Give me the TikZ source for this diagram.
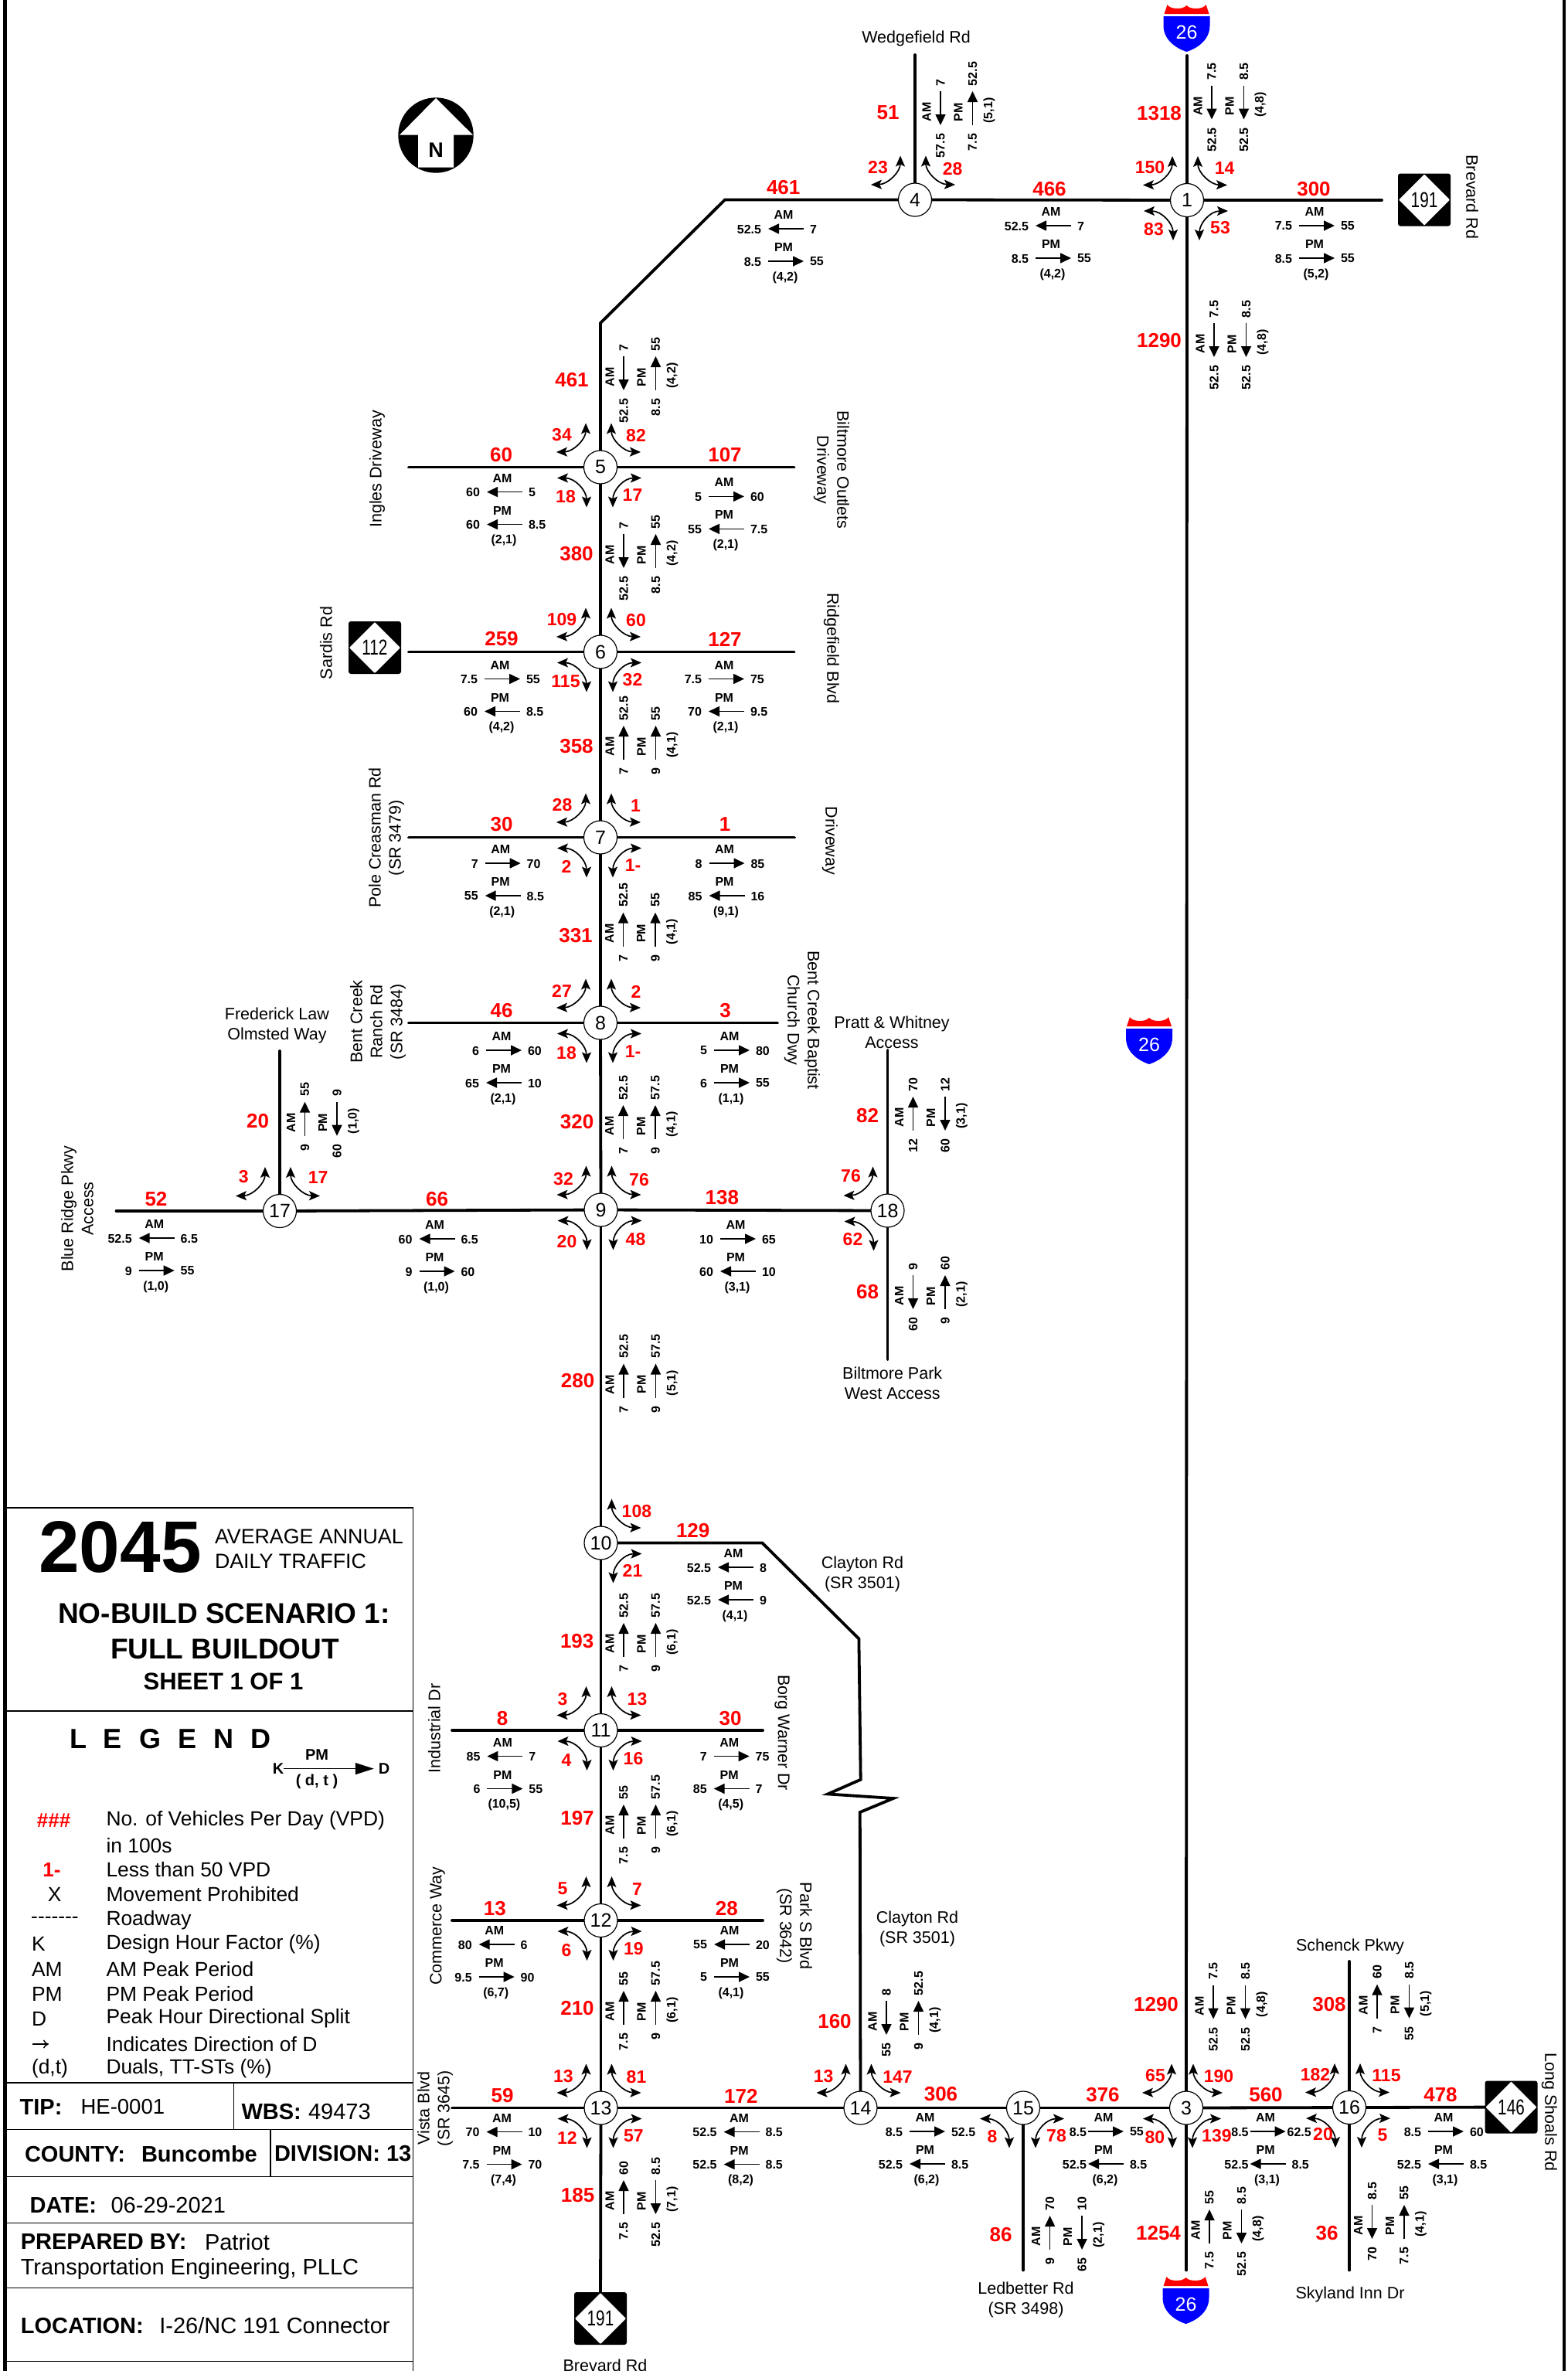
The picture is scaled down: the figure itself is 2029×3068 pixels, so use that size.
\documentclass[tikz,border=0pt]{standalone}
\usepackage{fontspec}
\setmainfont{Liberation Sans}
\usetikzlibrary{arrows.meta,backgrounds}
\definecolor{pred}{rgb}{1,0,0}
\definecolor{pblue}{rgb}{0,0,1}
\newcommand\fVol{\fontsize{26}{28}\selectfont\bfseries}
\newcommand\fTurn{\fontsize{23}{25}\selectfont\bfseries}
\newcommand\fSm{\fontsize{16}{18}\selectfont\bfseries}
\newcommand\fName{\fontsize{21.5}{26}\selectfont}
\newcommand\fNum{\fontsize{25}{27}\selectfont}
\newcommand\fLeg{\fontsize{26.4}{30}\selectfont}
\newcommand\fBox{\fontsize{29}{32}\selectfont}
\newcommand\fBoxB{\fontsize{29}{32}\selectfont\bfseries}
\tikzset{
  every node/.append style={inner sep=0pt,outer sep=0pt},
  road/.style={line width=3.8pt,line cap=round,line join=miter},
  isect/.style={circle,draw=black,fill=white,line width=1.2pt,minimum size=43pt,font=\fNum},
  vol/.style={font=\fVol,text=pred},
  tl/.style={font=\fTurn,text=pred},
  sm/.style={font=\fSm},
  nm/.style={font=\fName,align=center},
  legt/.style={font=\fLeg,anchor=west},
  boxr/.style={font=\fBox,anchor=west},
  boxb/.style={font=\fBoxB,anchor=west},
  rule/.style={line width=1.5pt},
  flow/.style={line width=1.7pt},
  frt/.style={-{Triangle[length=14pt,width=13pt]}},
  flt/.style={{Triangle[length=14pt,width=13pt]}-},
  turn/.style={line width=1.7pt,{Stealth[length=14pt,width=12pt,inset=3pt]}-{Stealth[length=14pt,width=12pt,inset=3pt]}},
}
\newcounter{lbl}
\newcommand\T[4][]{\stepcounter{lbl}\node[#1] (t\arabic{lbl}) at (#2,#3) {#4};}
\newcommand\V[3]{\T[vol]{#1}{#2}{#3}}
\newcommand\lgp{-32}
\newcommand\rgp{31}
% horizontal data block: arrow centre x, AM y
\newcommand\HB[9]{\begin{scope}[shift={(#1,#2)}]
  \T[sm]{-3}{0}{AM}
  \draw[flow,#4] (-23,18)--(23,18);
  \T[sm,anchor=east]{\lgp}{18.5}{#3}
  \T[sm,anchor=west]{\rgp}{18.5}{#5}
  \T[sm]{-3}{42}{PM}
  \draw[flow,#7] (-23,60)--(23,60);
  \T[sm,anchor=east]{\lgp}{60.5}{#6}
  \T[sm,anchor=west]{31}{60.5}{#8}
  \T[sm]{-1}{81}{#9}
\end{scope}}
% vertical data block: AM x, arrow centre y
\newcommand\VB[9]{\begin{scope}[shift={(#1,#2)}]
  \T[sm,rotate=90]{0}{5}{AM}
  \draw[flow,#4] (18,22)--(18,-22);
  \T[sm,rotate=90,anchor=west]{18}{-29}{#3}
  \T[sm,rotate=90,anchor=east]{18}{33}{#5}
  \T[sm,rotate=90]{41}{5}{PM}
  \draw[flow,#7] (59.5,22)--(59.5,-22);
  \T[sm,rotate=90,anchor=west]{59.5}{-29}{#6}
  \T[sm,rotate=90,anchor=east]{59.5}{33}{#8}
  \T[sm,rotate=90]{81}{3}{#9}
\end{scope}}
\newcommand\TNE[5]{\begin{scope}[shift={(#1,#2)}]
  \draw[turn] (14,-57) .. controls (14,-36) and (30,-20) .. (52,-19.5);
  \T[tl]{#4}{#5}{#3}\end{scope}}
\newcommand\TNW[5]{\begin{scope}[shift={(#1,#2)}]
  \draw[turn] (-19,-57) .. controls (-19,-36) and (-35,-20) .. (-57,-19.5);
  \T[tl]{#4}{#5}{#3}\end{scope}}
\newcommand\TSE[5]{\begin{scope}[shift={(#1,#2)}]
  \draw[turn] (53,14) .. controls (30,14) and (16,30) .. (16,52);
  \T[tl]{#4}{#5}{#3}\end{scope}}
\newcommand\TSW[5]{\begin{scope}[shift={(#1,#2)}]
  \draw[turn] (-56,14) .. controls (-33,14) and (-18,30) .. (-18,52);
  \T[tl]{#4}{#5}{#3}\end{scope}}
% NC route marker
\newcommand\NCS[4]{\node[fill=black,rounded corners=3pt,minimum size=68pt] (#1) at (#2,#3) {};
  \begin{scope}[shift={(#2,#3)}]
  \fill[white,rounded corners=1pt] (-33,0)--(0,-33)--(33,0)--(0,33)--cycle;
  \T[font=\fontsize{28}{30}\selectfont]{0}{0}{\scalebox{0.74}[1]{#4}}
  \end{scope}}
% Interstate marker: centre x, top y
\newcommand\ISH[2]{\begin{scope}[shift={(#1,#2)}]
  \fill[pred] (-25,0) .. controls (-22,6) and (-5,7) .. (0,1) .. controls (5,7) and (22,6) .. (25,0) -- (29,12) -- (-29,12) -- cycle;
  \fill[pblue] (-30,15) -- (30,15) -- (30,27) .. controls (30,45) and (15,56) .. (0,61) .. controls (-15,56) and (-30,45) .. (-30,27) -- cycle;
  \T[font=\fontsize{25}{27}\selectfont,text=white]{0}{36}{26}
  \end{scope}}
\begin{document}
\begin{tikzpicture}[x=1pt,y=-1pt]
\useasboundingbox (0,0) rectangle (2029,3068);
% frame
\draw[line width=4.5pt] (6.5,0)--(6.5,3068);
\draw[line width=4pt] (2023.5,0)--(2023.5,3068);
% intersections
\node[isect] (n1) at (1536,259) {1};
\node[isect] (n3) at (1535,2727.5) {3};
\node[isect] (n4) at (1184,258.5) {4};
\node[isect] (n5) at (777,604.5) {5};
\node[isect] (n6) at (777,843.5) {6};
\node[isect] (n7) at (777,1083.5) {7};
\node[isect] (n8) at (777,1323.5) {8};
\node[isect] (n9) at (777.5,1565.5) {9};
\node[isect] (n10) at (777.5,1996.5) {10};
\node[isect] (n11) at (777.5,2239) {11};
\node[isect] (n12) at (777.5,2485) {12};
\node[isect] (n13) at (777.5,2727.5) {13};
\node[isect] (n14) at (1113.5,2727.5) {14};
\node[isect] (n15) at (1324,2727.5) {15};
\node[isect] (n16) at (1746,2727) {16};
\node[isect] (n17) at (362,1567) {17};
\node[isect] (n18) at (1148.5,1566.5) {18};
% route markers
\NCS{sa}{1843}{258.5}{191}
\NCS{sb}{485}{838}{112}
\NCS{sc}{777}{3000}{191}
\NCS{sd}{1955.5}{2726.5}{146}
\ISH{1535.5}{6}
\ISH{1487}{1316}
\ISH{1534.5}{2946}
% free road ends and bends
\coordinate (e1e) at (1788,259);
\coordinate (e1n) at (1536,72);
\coordinate (e3s) at (1535,2937.5);
\coordinate (e4n) at (1184,71);
\coordinate (b4a) at (938,258.5);
\coordinate (b4b) at (777,418);
\coordinate (e5w) at (529,604.5);
\coordinate (e5e) at (1027.5,604.5);
\coordinate (e6w) at (529,843.5);
\coordinate (e6e) at (1027.5,843.5);
\coordinate (e7w) at (529,1083.5);
\coordinate (e7e) at (1028,1083.5);
\coordinate (e8w) at (529,1323.5);
\coordinate (e8e) at (1006,1323.5);
\coordinate (e17w) at (150.5,1567);
\coordinate (e17n) at (362,1360);
\coordinate (e18n) at (1148.5,1359);
\coordinate (e18s) at (1148.5,1759);
\coordinate (e11w) at (585,2239);
\coordinate (e11e) at (987,2239);
\coordinate (e12w) at (585,2485);
\coordinate (e12e) at (987,2485);
\coordinate (e13w) at (585,2727.5);
\coordinate (e15s) at (1324,2937.5);
\coordinate (e16n) at (1746,2538);
\coordinate (e16s) at (1746,2937.5);
\coordinate (z1) at (986.4,1996.5);
\coordinate (z2) at (1111.4,2120.5);
\coordinate (z3) at (1113.7,2302.7);
\coordinate (z4) at (1071.2,2321.4);
\coordinate (z5) at (1156,2327);
\coordinate (z6) at (1112.8,2345);
\begin{scope}[on background layer]
\draw[road] (n4)--(n1);
\draw[road] (n1)--(e1e);
\draw[road] (n1)--(e1n);
\draw[road] (n1)--(n3);
\draw[road] (n3)--(e3s);
\draw[road] (n4)--(e4n);
\draw[road] (n4)--(b4a)--(b4b)--(n5);
\draw[road] (n5)--(n6);
\draw[road] (n6)--(n7);
\draw[road] (n7)--(n8);
\draw[road] (n8)--(n9);
\draw[road] (n9)--(n10);
\draw[road] (n10)--(n11);
\draw[road] (n11)--(n12);
\draw[road] (n12)--(n13);
\draw[road] (n13)--(sc);
\draw[road] (n5)--(e5w);
\draw[road] (n5)--(e5e);
\draw[road] (n6)--(e6w);
\draw[road] (n6)--(e6e);
\draw[road] (n7)--(e7w);
\draw[road] (n7)--(e7e);
\draw[road] (n8)--(e8w);
\draw[road] (n8)--(e8e);
\draw[road] (n17)--(n9);
\draw[road] (n9)--(n18);
\draw[road] (n17)--(e17w);
\draw[road] (n17)--(e17n);
\draw[road] (n18)--(e18n);
\draw[road] (n18)--(e18s);
\draw[road] (n11)--(e11w);
\draw[road] (n11)--(e11e);
\draw[road] (n12)--(e12w);
\draw[road] (n12)--(e12e);
\draw[road] (n13)--(e13w);
\draw[road] (n13)--(n14);
\draw[road] (n14)--(n15);
\draw[road] (n15)--(n3);
\draw[road] (n3)--(n16);
\draw[road] (n16)--(sd);
\draw[road] (n15)--(e15s);
\draw[road] (n16)--(e16n);
\draw[road] (n16)--(e16s);
\draw[road] (n10)--(z1)--(z2)--(z3)--(z4)--(z5)--(z6)--(n14);
\end{scope}
% north arrow
\fill[black] (564,175) circle (48.7);
\fill[white] (564,127)--(612,174.7)--(587,174.7)--(587,216.7)--(541,216.7)--(541,174.7)--(517,174.7)--cycle;
\T[font=\fontsize{27}{29}\selectfont\bfseries]{564}{194}{N}
% road volumes
\V{1358}{244.5}{466}\V{1700}{244.5}{300}\V{1149}{146}{51}\V{1500}{147}{1318}\V{1500}{441}{1290}
\V{1013.7}{243}{461}\V{740}{492}{461}
\V{648.5}{588.4}{60}\V{938}{588.4}{107}\V{746}{717}{380}
\V{649}{827}{259}\V{938}{827}{127}\V{746}{966}{358}
\V{649}{1067}{30}\V{938}{1067}{1}\V{745}{1210.7}{331}
\V{649}{1308}{46}\V{938.5}{1308}{3}\V{746.6}{1452}{320}
\V{565.5}{1552}{66}\V{934.4}{1550}{138}\V{1122.6}{1444}{82}\V{1122.6}{1671.4}{68}
\V{202}{1552}{52}\V{333.6}{1450.7}{20}
\V{747.6}{1787}{280}\V{896.7}{1981}{129}\V{746.7}{2124}{193}
\V{650}{2223.7}{8}\V{945}{2223.7}{30}\V{747}{2353}{197}
\V{640.4}{2470}{13}\V{940.4}{2470}{28}\V{747}{2599}{210}
\V{650}{2711.7}{59}\V{958.8}{2712.6}{172}\V{1080}{2616}{160}\V{747.6}{2841}{185}
\V{1217.5}{2710}{306}\V{1427}{2710.6}{376}\V{1638}{2710.6}{560}\V{1864}{2710.6}{478}
\V{1496}{2594}{1290}\V{1720}{2594}{308}\V{1295}{2892}{86}\V{1499}{2889.5}{1254}\V{1717}{2889.5}{36}
% turning movements
\TNW{1536}{259}{150}{-48}{-42}\TNE{1536}{259}{14}{48.7}{-41}\TSW{1536}{259}{83}{-43}{38}\TSE{1536}{259}{53}{43}{36}
\TNW{1184}{258.5}{23}{-48}{-42}\TNE{1184}{258.5}{28}{48.7}{-40}
\TNW{777}{604.5}{34}{-50}{-42}\TNE{777}{604.5}{82}{46}{-41}\TSW{777}{604.5}{18}{-45}{38}\TSE{777}{604.5}{17}{41.5}{36}
\TNW{777}{843.5}{109}{-50}{-42}\TNE{777}{843.5}{60}{46}{-41}\TSW{777}{843.5}{115}{-45}{38}\TSE{777}{843.5}{32}{41.5}{36}
\TNW{777}{1083.5}{28}{-49.5}{-42}\TNE{777}{1083.5}{1}{45.5}{-41}\TSW{777}{1083.5}{2}{-44}{38}\TSE{777}{1083.5}{1-}{42}{36}
\TNW{777}{1323.5}{27}{-50}{-40.6}\TNE{777}{1323.5}{2}{46}{-40}\TSW{777}{1323.5}{18}{-44}{39}\TSE{777}{1323.5}{1-}{42}{36.6}
\TNW{777.5}{1565.5}{32}{-48.5}{-40}\TNE{777.5}{1565.5}{76}{49.5}{-39}\TSW{777.5}{1565.5}{20}{-44}{40.6}\TSE{777.5}{1565.5}{48}{45}{38}
\TNW{1148.5}{1566.5}{76}{-47.5}{-45}\TSW{1148.5}{1566.5}{62}{-45}{37}
\TNW{362}{1567}{3}{-46.7}{-44}\TNE{362}{1567}{17}{49.7}{-43}
\TNE{777.5}{1996.5}{108}{46.4}{-41}\TSE{777.5}{1996.5}{21}{41}{36}
\TNW{777.5}{2239}{3}{-49.5}{-40.6}\TNE{777.5}{2239}{13}{47}{-40}\TSW{777.5}{2239}{4}{-44.6}{39}\TSE{777.5}{2239}{16}{42}{37}
\TNW{777.5}{2485}{5}{-49.5}{-41.7}\TNE{777.5}{2485}{7}{47}{-40}\TSW{777.5}{2485}{6}{-44.6}{39}\TSE{777.5}{2485}{19}{42.4}{37}
\TNW{777.5}{2727.5}{13}{-48.7}{-41}\TNE{777.5}{2727.5}{81}{46}{-40}\TSW{777.5}{2727.5}{12}{-43.7}{39}\TSE{777.5}{2727.5}{57}{42.4}{36.6}
\TNW{1113.5}{2727.5}{13}{-47.8}{-41}\TNE{1113.5}{2727.5}{147}{48}{-40}
\TSW{1324}{2727.5}{8}{-40}{37.5}\TSE{1324}{2727.5}{78}{43}{36}
\TNW{1535}{2727.5}{65}{-40}{-41.6}\TNE{1530}{2727.5}{190}{47}{-41}\TSW{1535}{2727.5}{80}{-40.6}{38}\TSE{1527}{2727.5}{139}{47.4}{35.6}
\TNW{1746}{2727}{182}{-44}{-42}\TNE{1746}{2727}{115}{48}{-41}\TSW{1746}{2727}{20}{-34}{35}\TSE{1746}{2727}{5}{43}{36}
% horizontal data
\HB{1017}{278}{52.5}{flt}{7}{8.5}{frt}{55}{(4,2)}
\HB{1363}{274}{52.5}{flt}{7}{8.5}{frt}{55}{(4,2)}
\HB{1704}{274}{7.5}{frt}{55}{8.5}{frt}{55}{(5,2)}
\HB{653}{618.6}{60}{flt}{5}{60}{flt}{8.5}{(2,1)}
\HB{940}{624.4}{5}{frt}{60}{55}{flt}{7.5}{(2,1)}
\HB{650}{860.5}{7.5}{frt}{55}{60}{flt}{8.5}{(4,2)}
\HB{940}{860.5}{7.5}{frt}{75}{70}{flt}{9.5}{(2,1)}
\HB{650.7}{1099}{7}{frt}{70}{55}{flt}{8.5}{(2,1)}
\HB{940.5}{1099}{8}{frt}{85}{85}{flt}{16}{(9,1)}
\HB{652}{1341}{6}{frt}{60}{65}{flt}{10}{(2,1)}
\HB{947}{1341}{5}{frt}{80}{6}{frt}{55}{(1,1)}
\HB{565.5}{1585}{60}{flt}{6.5}{9}{frt}{60}{(1,0)}
\HB{955}{1585}{10}{frt}{65}{60}{flt}{10}{(3,1)}
\HB{202.7}{1584}{52.5}{flt}{6.5}{9}{frt}{55}{(1,0)}
\HB{952}{2010}{52.5}{flt}{8}{52.5}{flt}{9}{(4,1)}
\HB{653.4}{2254.5}{85}{flt}{7}{6}{frt}{55}{(10,5)}
\HB{946.7}{2254.5}{7}{frt}{75}{85}{flt}{7}{(4,5)}
\HB{642.7}{2498}{80}{flt}{6}{9.5}{frt}{90}{(6,7)}
\HB{947}{2498}{55}{flt}{20}{5}{frt}{55}{(4,1)}
\HB{652.5}{2740.6}{70}{flt}{10}{7.5}{frt}{70}{(7,4)}
\HB{959.6}{2740.6}{52.5}{flt}{8.5}{52.5}{flt}{8.5}{(8,2)}
\HB{1200}{2740}{8.5}{frt}{52.5}{52.5}{flt}{8.5}{(6,2)}
\renewcommand\lgp{-25}
\HB{1431}{2740}{8.5}{frt}{55}{52.5}{flt}{8.5}{(6,2)}
\renewcommand\rgp{25}
\HB{1640.6}{2740}{8.5}{frt}{62.5}{52.5}{flt}{8.5}{(3,1)}
\renewcommand\rgp{31}
\renewcommand\lgp{-32}
\HB{1871}{2740}{8.5}{frt}{60}{52.5}{flt}{8.5}{(3,1)}
% vertical data
\VB{1199}{140}{7}{flt}{57.5}{52.5}{frt}{7.5}{(5,1)}
\VB{1550}{132.5}{7.5}{flt}{52.5}{8.5}{flt}{52.5}{(4,8)}
\VB{1553}{440}{7.5}{flt}{52.5}{8.5}{flt}{52.5}{(4,8)}
\VB{789}{483}{7}{flt}{52.5}{55}{frt}{8.5}{(4,2)}
\VB{789}{713}{7}{flt}{52.5}{55}{frt}{8.5}{(4,2)}
\VB{789}{961}{52.5}{frt}{7}{55}{frt}{9}{(4,1)}
\VB{788.5}{1202.7}{52.5}{frt}{7}{55}{frt}{9}{(4,1)}
\VB{788.5}{1452}{52.5}{frt}{7}{57.5}{frt}{9}{(4,1)}
\VB{1163.5}{1441}{70}{frt}{12}{12}{flt}{60}{(3,1)}
\VB{1163.5}{1672}{9}{flt}{60}{60}{frt}{9}{(2,1)}
\VB{376.5}{1447.7}{55}{frt}{9}{9}{flt}{60}{(1,0)}
\VB{789}{1786.6}{52.5}{frt}{7}{57.5}{frt}{9}{(5,1)}
\VB{789}{2122}{52.5}{frt}{7}{57.5}{frt}{9}{(6,1)}
\VB{789}{2357}{55}{frt}{7.5}{57.5}{frt}{9}{(6,1)}
\VB{789}{2598}{55}{frt}{7.5}{57.5}{frt}{9}{(6,1)}
\VB{789}{2843}{60}{frt}{7.5}{8.5}{flt}{52.5}{(7,1)}
\VB{1129}{2611}{8}{flt}{55}{52.5}{frt}{9}{(4,1)}
\VB{1552}{2590.6}{7.5}{flt}{52.5}{8.5}{flt}{52.5}{(4,8)}
\VB{1764}{2589.6}{60}{frt}{7}{8.5}{flt}{55}{(5,1)}
\VB{1340.6}{2889}{70}{frt}{9}{10}{flt}{65}{(2,1)}
\VB{1547}{2881}{55}{frt}{7.5}{8.5}{flt}{52.5}{(4,8)}
\VB{1757.5}{2875}{8.5}{flt}{70}{55}{frt}{7.5}{(4,1)}
% road names
\T[nm]{1185.6}{49.5}{Wedgefield Rd}
\T[nm,rotate=-90]{1905}{255}{Brevard Rd}
\T[nm,rotate=90]{488}{607}{Ingles Driveway}
\T[nm,rotate=-90]{1076}{608}{Biltmore Outlets\\Driveway}
\T[nm,rotate=-90]{1076}{839}{Ridgefield Blvd}
\T[nm,rotate=90]{422}{832}{Sardis Rd}
\T[nm,rotate=90]{500}{1084}{Pole Creasman Rd\\(SR 3479)}
\T[nm,rotate=-90]{1074}{1088}{Driveway}
\T[nm,rotate=90]{489}{1322}{Bent Creek\\Ranch Rd\\(SR 3484)}
\T[nm,rotate=-90]{1038}{1320}{Bent Creek Baptist\\Church Dwy}
\T[nm]{1154}{1336}{Pratt \& Whitney\\Access}
\T[nm]{358.4}{1327}{Frederick Law\\Olmsted Way}
\T[nm,rotate=90]{100}{1564}{Blue Ridge Pkwy\\Access}
\T[nm]{1154.7}{1790}{Biltmore Park\\West Access}
\T[nm]{1116}{2037}{Clayton Rd\\(SR 3501)}
\T[nm,rotate=-90]{1012}{2242}{Borg Warner Dr}
\T[nm,rotate=90]{562}{2236.6}{Industrial Dr}
\T[nm,rotate=90]{566}{2492}{Commerce Way}
\T[nm,rotate=-90]{1028}{2492}{Park S Blvd\\(SR 3642)}
\T[nm]{1187}{2496}{Clayton Rd\\(SR 3501)}
\T[nm,rotate=90]{563}{2728}{Vista Blvd\\(SR 3645)}
\T[nm]{783}{3061}{Brevard Rd}
\T[nm,rotate=-90]{2005}{2733}{Long Shoals Rd}
\T[nm]{1747}{2519}{Schenck Pkwy}
\T[nm]{1327.5}{2976}{Ledbetter Rd\\(SR 3498)}
\T[nm]{1747}{2969}{Skyland Inn Dr}
% title block
\draw[rule] (6.5,1951)--(534.6,1951);
\draw[rule] (534.6,1951)--(534.6,3068);
\draw[rule] (6.5,2214)--(534.6,2214);
\draw[rule] (6.5,2695)--(534.6,2695);
\draw[rule] (6.5,2755.7)--(534.6,2755.7);
\draw[rule] (6.5,2816.4)--(534.6,2816.4);
\draw[rule] (6.5,2876.4)--(534.6,2876.4);
\draw[rule] (6.5,2960.7)--(534.6,2960.7);
\draw[line width=1.8pt] (6.5,3055.5)--(534.6,3055.5);
\draw[rule] (302.5,2695)--(302.5,2755.7);
\draw[rule] (350,2755.7)--(350,2816.4);
\T[font=\fontsize{94.5}{96}\selectfont\bfseries]{155.5}{2002}{2045}
\T[font=\fontsize{26.8}{30}\selectfont,anchor=west]{278}{1988}{AVERAGE ANNUAL}
\T[font=\fontsize{26.8}{30}\selectfont,anchor=west]{278}{2020}{DAILY TRAFFIC}
\T[font=\fontsize{37}{40}\selectfont\bfseries]{290}{2088}{NO-BUILD SCENARIO 1:}
\T[font=\fontsize{37}{40}\selectfont\bfseries]{291}{2133.6}{FULL BUILDOUT}
\T[font=\fontsize{31}{34}\selectfont\bfseries]{289}{2175.7}{SHEET 1 OF 1}
\T[font=\fontsize{36}{38}\selectfont\bfseries,anchor=west]{90}{2250}{\spaceskip=22pt L E G E N D}
% legend key
\node[font=\fontsize{20}{22}\selectfont\bfseries] (legK) at (360,2288.6) {K};
\node[font=\fontsize{20}{22}\selectfont\bfseries] (legD) at (497,2288.6) {D};
\T[font=\fontsize{20}{22}\selectfont\bfseries]{410}{2271}{PM}
\T[font=\fontsize{20}{22}\selectfont\bfseries]{410}{2305.7}{( d, t )}
\draw[line width=1.4pt,shorten >=6pt,-{Triangle[length=24pt,width=15pt]}] (legK)--(legD);
% legend rows
\T[font=\fontsize{26}{28}\selectfont\bfseries,text=pred]{69.6}{2355.7}{\#\#\#}
\T[legt]{137.5}{2355.7}{No. of Vehicles Per Day (VPD)}
\T[legt]{137.5}{2387.9}{in 100s}
\T[font=\fontsize{26}{28}\selectfont\bfseries,text=pred]{67}{2419.3}{1-}
\T[legt]{137.5}{2419.3}{Less than 50 VPD}
\T[font=\fLeg]{70.7}{2451.4}{X}
\T[legt]{137.5}{2451.4}{Movement Prohibited}
\T[font=\fLeg]{71}{2484.3}{-{}-{}-{}-{}-{}-{}-}
\T[legt]{137.5}{2484.3}{Roadway}
\T[legt]{41}{2515.7}{K}
\T[legt]{137.5}{2515.7}{Design Hour Factor (\%)}
\T[legt]{41}{2547.9}{AM}
\T[legt]{137.5}{2547.9}{AM Peak Period}
\T[legt]{41}{2580}{PM}
\T[legt]{137.5}{2580}{PM Peak Period}
\T[legt]{41}{2612}{D}
\T[legt]{137.5}{2612}{Peak Hour Directional Split}
\draw[line width=1.4pt,-{To[length=7pt,width=11pt]}] (42,2645)--(63,2645);
\T[legt]{137.5}{2645}{Indicates Direction of D}
\T[legt]{41}{2677}{(d,t)}
\T[legt]{137.5}{2677}{Duals, TT-STs (\%)}
% info rows
\T[boxb]{25.7}{2726.4}{TIP:}
\T[font=\fontsize{27.5}{30}\selectfont,anchor=west]{104.6}{2726.4}{HE-0001}
\T[boxb]{312.5}{2732}{WBS:}
\T[boxr]{399}{2732}{49473}
\T[boxb]{32}{2787}{COUNTY:}
\T[boxb]{183}{2787}{Buncombe}
\T[boxb]{355}{2787}{DIVISION: 13}
\T[boxb]{38.6}{2853}{DATE:}
\T[boxr]{143.6}{2853}{06-29-2021}
\T[boxb]{26.8}{2900.7}{PREPARED BY:}
\T[boxr]{265}{2900.7}{Patriot}
\T[boxr]{26.8}{2936}{Transportation Engineering, PLLC}
\T[boxb]{26.8}{3009}{LOCATION:}
\T[boxr]{206.4}{3009}{I-26/NC 191 Connector}
\end{tikzpicture}
\end{document}
